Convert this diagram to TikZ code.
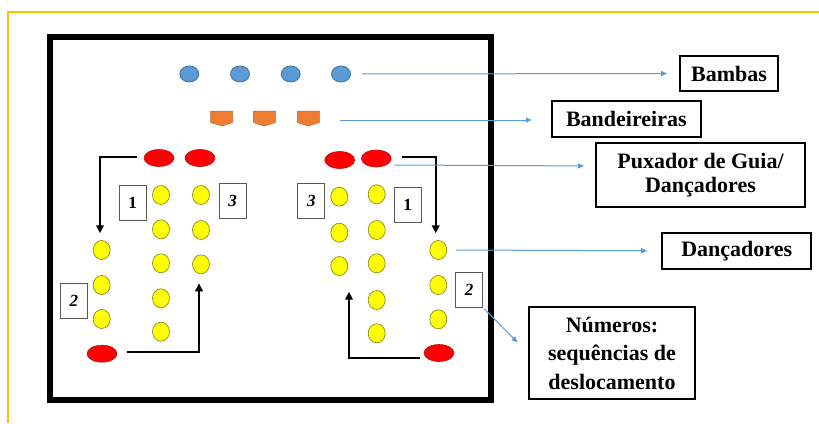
\documentclass[tikz,border=0pt]{standalone}
\usepackage{fontspec}
\setmainfont{Liberation Serif}
\usetikzlibrary{arrows.meta,shapes.geometric}
\definecolor{gold}{HTML}{FFC000}
\definecolor{bfill}{HTML}{5B9BD5}
\definecolor{bline}{HTML}{41719C}
\definecolor{ofill}{HTML}{ED7D31}
\definecolor{oline}{HTML}{C0632A}
\definecolor{yfill}{HTML}{FFFF00}
\definecolor{yline}{HTML}{8C8A20}
\definecolor{rfill}{HTML}{FF0000}
\definecolor{rline}{HTML}{B01818}
\definecolor{lblue}{HTML}{5B9BD5}
\begin{document}
\begin{tikzpicture}[x=1pt,y=-1pt,
  bamba/.style={ellipse,minimum width=19pt,minimum height=16pt,inner sep=0pt,fill=bfill,draw=bline,line width=0.8pt},
  redp/.style={ellipse,minimum width=30pt,minimum height=17pt,inner sep=0pt,fill=rfill,draw=rline,line width=0.6pt},
  yel/.style={ellipse,minimum width=17pt,minimum height=19pt,inner sep=0pt,fill=yfill,draw=yline,line width=0.7pt},
  lbl/.style={draw,line width=2pt,align=center,inner sep=0pt,font=\fontsize{22}{24}\selectfont\bfseries},
  numbox/.style={draw=black!65,line width=0.9pt,minimum width=27pt,minimum height=35pt,inner sep=0pt,font=\fontsize{17}{17}\selectfont\bfseries},
  flow/.style={line width=2.3pt,-{Triangle[length=8pt,width=7.5pt]}},
  bluearr/.style={draw=lblue,line width=1pt,-{Triangle[length=6pt,width=5pt]}},
  flagshape/.pic={\filldraw[fill=ofill,draw=oline,line width=0.5pt] (-11,-6) -- (11,-6) -- (11,5.5) -- (0,9) -- (-11,5.5) -- cycle;}
]
\useasboundingbox (0,0) rectangle (819,423);
\fill[white] (0,0) rectangle (819,423);
\draw[gold,line width=1.5pt] (8,423) -- (8,12) -- (819,12);
\draw[line width=5.5pt] (50,37) rectangle (491,400);

% bambas
\node[bamba] (b1) at (189.3,74) {};
\node[bamba] (b2) at (240,74) {};
\node[bamba] (b3) at (290.7,74) {};
\node[bamba] (b4) at (341,74) {};
% bandeireiras
\pic at (221.7,117) {flagshape};
\pic at (264.3,117) {flagshape};
\pic at (308.3,117) {flagshape};
\coordinate (o3) at (319.3,120);

% red
\node[redp] (r1) at (159,158) {};
\node[redp] (r2) at (200,158) {};
\node[redp] (r3) at (102,353.7) {};
\node[redp] (r4) at (339.7,160) {};
\node[redp] (r5) at (376.3,158.5) {};
\node[redp] (r6) at (439,353) {};

% left yellow
\node[yel] (la1) at (161,195) {};
\node[yel] (la2) at (161,229.3) {};
\node[yel] (la3) at (161,263.3) {};
\node[yel] (la4) at (161,298.3) {};
\node[yel] (la5) at (161,331.7) {};
\node[yel] (lb1) at (201,195) {};
\node[yel] (lb2) at (201,230) {};
\node[yel] (lb3) at (201,264.3) {};
\node[yel] (lc1) at (101.7,250) {};
\node[yel] (lc2) at (101.7,285) {};
\node[yel] (lc3) at (101.7,319) {};
% right yellow
\node[yel] (ra1) at (339.3,196.7) {};
\node[yel] (ra2) at (339.3,232.7) {};
\node[yel] (ra3) at (339.3,266) {};
\node[yel] (rb1) at (376.7,194.3) {};
\node[yel] (rb2) at (376.7,230) {};
\node[yel] (rb3) at (376.7,263.3) {};
\node[yel] (rb4) at (376.7,300) {};
\node[yel] (rb5) at (376.7,333.3) {};
\node[yel] (rc1) at (438.3,250) {};
\node[yel] (rc2) at (438.3,285) {};
\node[yel] (rc3) at (438.3,319.3) {};

% number boxes
\node[numbox] (nl1) at (132.5,203.3) {1};
\node[numbox] (nl3) at (232.5,201.3) {\itshape 3};
\node[numbox] (nl2) at (73.8,301) {\itshape 2};
\node[numbox] (nr3) at (311.3,201.3) {\itshape 3};
\node[numbox] (nr1) at (407.5,205) {1};
\node[numbox] (nr2) at (469,289.5) {\itshape 2};

% labels
\node[lbl,minimum width=98pt,minimum height=35pt] (bambas) at (729,73.5) {Bambas};
\node[lbl,minimum width=149pt,minimum height=36pt] (bandeir) at (626.3,118.8) {Bandeireiras};
\node[lbl,minimum width=209pt,minimum height=64pt] (pux) at (700.5,175.3) {Puxador de Guia/\\Dançadores};
\node[lbl,minimum width=149pt,minimum height=36pt] (danc) at (736.7,250.8) {Dançadores};
\node[lbl,minimum width=166pt,minimum height=92pt,font=\fontsize{22}{28.5}\selectfont\bfseries] (num) at (612,353) {Números:\\sequências de\\deslocamento};

% movement arrows
\coordinate (t1) at (100,233.3);
\coordinate (t2) at (199,283.3);
\coordinate (t3) at (435.7,233.3);
\coordinate (t4) at (349,291.7);
\draw[flow,shorten <=7pt] ([shift={(0,-1)}]r1.west) -| (t1);
\draw[flow,shorten <=10pt] ([shift={(0,-2)}]r3.east) -| (t2);
\draw[flow,shorten <=10pt] ([shift={(0,-1.8)}]r5.east) -| (t3);
\draw[flow,shorten <=4pt] ([shift={(0,4.7)}]r6.west) -| (t4);

% blue connectors
\draw[bluearr,shorten <=11pt,shorten >=12pt] (b4.east) -- (bambas.west);
\draw[bluearr,shorten <=21pt,shorten >=19pt] (o3) -- (bandeir.west |- o3);
\draw[bluearr,shorten >=11pt] ([shift={(3,6.5)}]r5.east) -- ([shift={(0,-9.3)}]pux.west);
\draw[bluearr,shorten <=9pt,shorten >=14pt] (rc1.east) -- (danc.west);
\draw[bluearr,shorten <=2pt,shorten >=15pt] (nr2.south east) -- (num.west);
\end{tikzpicture}
\end{document}
